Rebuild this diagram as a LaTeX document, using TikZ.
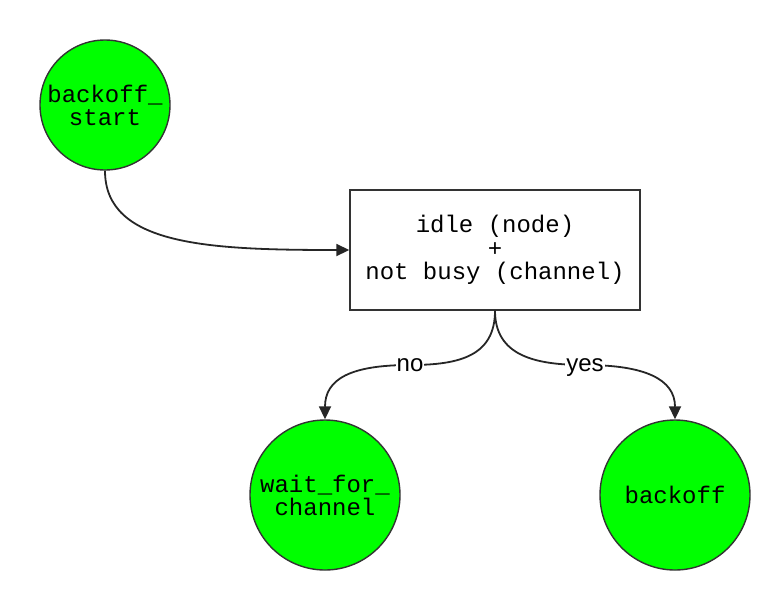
\documentclass[tikz,border=0pt]{standalone}
\usepackage{fontspec}
\setmonofont{Liberation Mono}
\newfontfamily\lblfont{Liberation Sans}
\usetikzlibrary{arrows.meta}

\begin{document}
\begin{tikzpicture}[x=1pt,y=-1pt,
  state/.style={circle,draw=black!80,fill=green,line width=1.4pt,inner sep=0pt,
    align=center,font=\ttfamily\fontsize{24}{24}\selectfont},
  check/.style={rectangle,draw=black!80,line width=1.4pt,minimum width=290pt,
    minimum height=120pt,align=center,font=\ttfamily\fontsize{24}{23.5}\selectfont},
  flow/.style={draw=black!85,line width=1.8pt,-{Triangle[length=13pt,width=12pt]}},
  lbl/.style={fill=white,inner sep=1pt,text height=17pt,text depth=5pt,
    font=\lblfont\fontsize{24}{24}\selectfont}]
 \useasboundingbox (0,0) rectangle (770,590);
 % states and the test
 \node[state,minimum size=130pt] (start) at (105,105) {backoff\_\\[-1pt]start};
 \node[check] (idle) at (495,250) {idle (node)\\+\\not busy (channel)};
 \node[state,minimum size=150pt] (wait) at (325,495) {wait\_for\_\\[-1pt]channel};
 \node[state,minimum size=150pt] (boff) at (675,495) {backoff};
 \coordinate (nopt) at (410,365);
 \coordinate (yespt) at (585,365);
 % transitions
 \draw[flow] (start.south) .. controls +(0,75) and +(-140,0) .. (idle.west);
 \draw[flow] (idle.south) .. controls +(0,45) and +(50,0) .. (nopt) node[lbl]{no}
   .. controls +(-60,0) and +(0,-40) .. (wait.north);
 \draw[flow] (idle.south) .. controls +(0,45) and +(-50,0) .. (yespt) node[lbl]{yes}
   .. controls +(60,0) and +(0,-40) .. (boff.north);
\end{tikzpicture}
\end{document}
